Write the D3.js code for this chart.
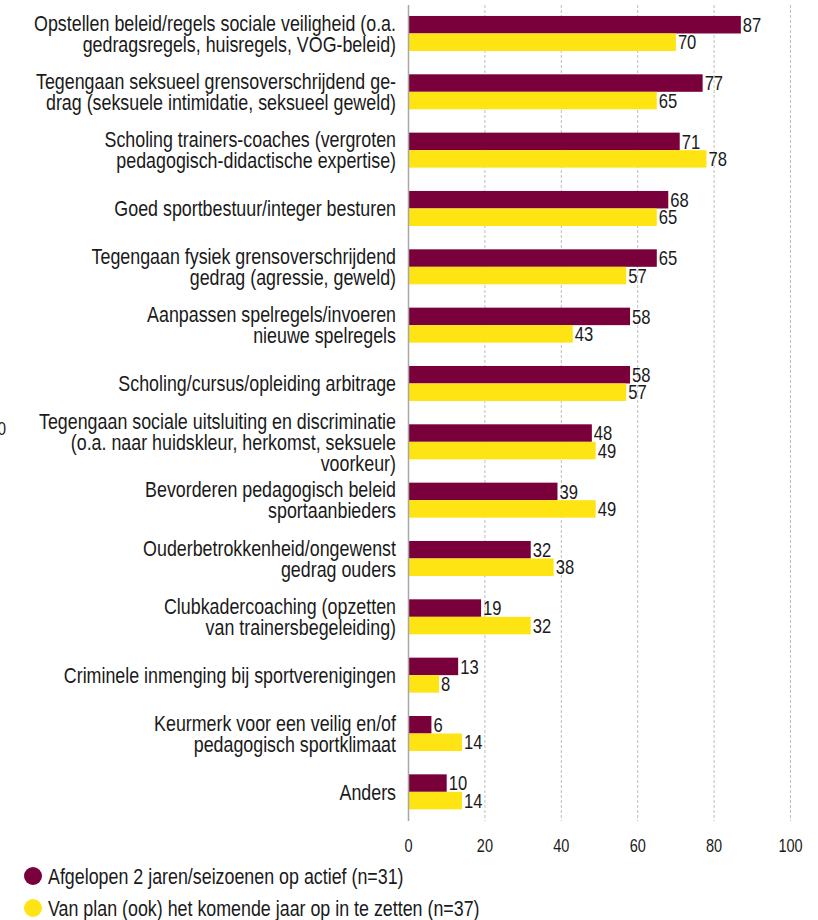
<!DOCTYPE html>
<html><head><meta charset="utf-8">
<script src="https://cdn.jsdelivr.net/npm/d3@7"></script>
<style>
body{margin:0;background:#fff;}
text{font-family:"Liberation Sans",Arial,sans-serif;fill:#1a1a1a;}
</style></head>
<body><svg id="c" width="818" height="920"></svg>
<script>
const categories = [
  ["Opstellen beleid/regels sociale veiligheid (o.a.","gedragsregels, huisregels, VOG-beleid)"],
  ["Tegengaan seksueel grensoverschrijdend ge-","drag (seksuele intimidatie, seksueel geweld)"],
  ["Scholing trainers-coaches (vergroten","pedagogisch-didactische expertise)"],
  ["Goed sportbestuur/integer besturen"],
  ["Tegengaan fysiek grensoverschrijdend","gedrag (agressie, geweld)"],
  ["Aanpassen spelregels/invoeren","nieuwe spelregels"],
  ["Scholing/cursus/opleiding arbitrage"],
  ["Tegengaan sociale uitsluiting en discriminatie","(o.a. naar huidskleur, herkomst, seksuele","voorkeur)"],
  ["Bevorderen pedagogisch beleid","sportaanbieders"],
  ["Ouderbetrokkenheid/ongewenst","gedrag ouders"],
  ["Clubkadercoaching (opzetten","van trainersbegeleiding)"],
  ["Criminele inmenging bij sportverenigingen"],
  ["Keurmerk voor een veilig en/of","pedagogisch sportklimaat"],
  ["Anders"]
];
const seriesNames = ["Afgelopen 2 jaren/seizoenen op actief (n=31)","Van plan (ook) het komende jaar op in te zetten (n=37)"];
const actief = [87,77,71,68,65,58,58,48,39,32,19,13,6,10];
const plan   = [70,65,78,65,57,43,57,49,49,38,32,8,14,14];
const ticks  = [0,20,40,60,80,100];
const colors = ["#7a003c","#ffe414"];

const NARROW = 0.83;
const svg = d3.select("#c");
function ntext(sel, x, y, size, anchor){
  return sel.append("text")
    .attr("transform",`translate(${x},${y}) scale(${NARROW},1)`)
    .attr("font-size",size).attr("text-anchor",anchor||"start");
}

const x = d3.scaleLinear().domain([0,100]).range([408.5,790.5]);
const idx = d3.range(categories.length);
const y0 = d3.scaleBand().domain(idx).range([4.3,821]).paddingInner(0.4).paddingOuter(0.2);
const y1 = d3.scaleBand().domain([0,1]).range([0,y0.bandwidth()]);

// gridlines
svg.append("g").selectAll("line").data(ticks.slice(1)).join("line")
  .attr("x1",d=>x(d)).attr("x2",d=>x(d)).attr("y1",5).attr("y2",821)
  .attr("stroke","#bdbdbd").attr("stroke-width",1).attr("stroke-dasharray","3,2");

// bars + value labels
const series = [actief, plan];
const g = svg.append("g");
idx.forEach(i=>{
  series.forEach((s,j)=>{
    g.append("rect").attr("x",x(0)).attr("y",y0(i)+y1(j))
      .attr("width",x(s[i])-x(0)).attr("height",y1.bandwidth())
      .attr("fill",colors[j]);
  });
});
idx.forEach(i=>{
  series.forEach((s,j)=>{
    ntext(g, x(s[i])+2, y0(i)+y1(j)+y1.bandwidth()/2+7.2, 20).text(s[i]);
  });
});

// axis line
svg.append("line").attr("x1",x(0)).attr("x2",x(0)).attr("y1",5).attr("y2",821)
  .attr("stroke","#a8a8a8").attr("stroke-width",1.5);

// tick labels
const tg = svg.append("g");
ticks.forEach(d=>{ ntext(tg, x(d), 852, 17.5, "middle").text(d); });

// category labels
const lh = 21;
idx.forEach(i=>{
  const lines = categories[i];
  const cy = y0(i)+y0.bandwidth()/2;
  lines.forEach((ln,k)=>{
    ntext(svg, 396, cy+(k-(lines.length-1)/2)*lh+7.7, 21.5, "end").text(ln);
  });
});

// stray label at the left edge
ntext(svg, -2.5, 435, 18.5).text("0");

// legend
seriesNames.forEach((n,j)=>{
  const cy = 876 + j*32;
  svg.append("circle").attr("cx",33).attr("cy",cy).attr("r",9).attr("fill",colors[j]);
  ntext(svg, 48, cy+7.5, 21.5).text(n);
});
</script></body></html>
